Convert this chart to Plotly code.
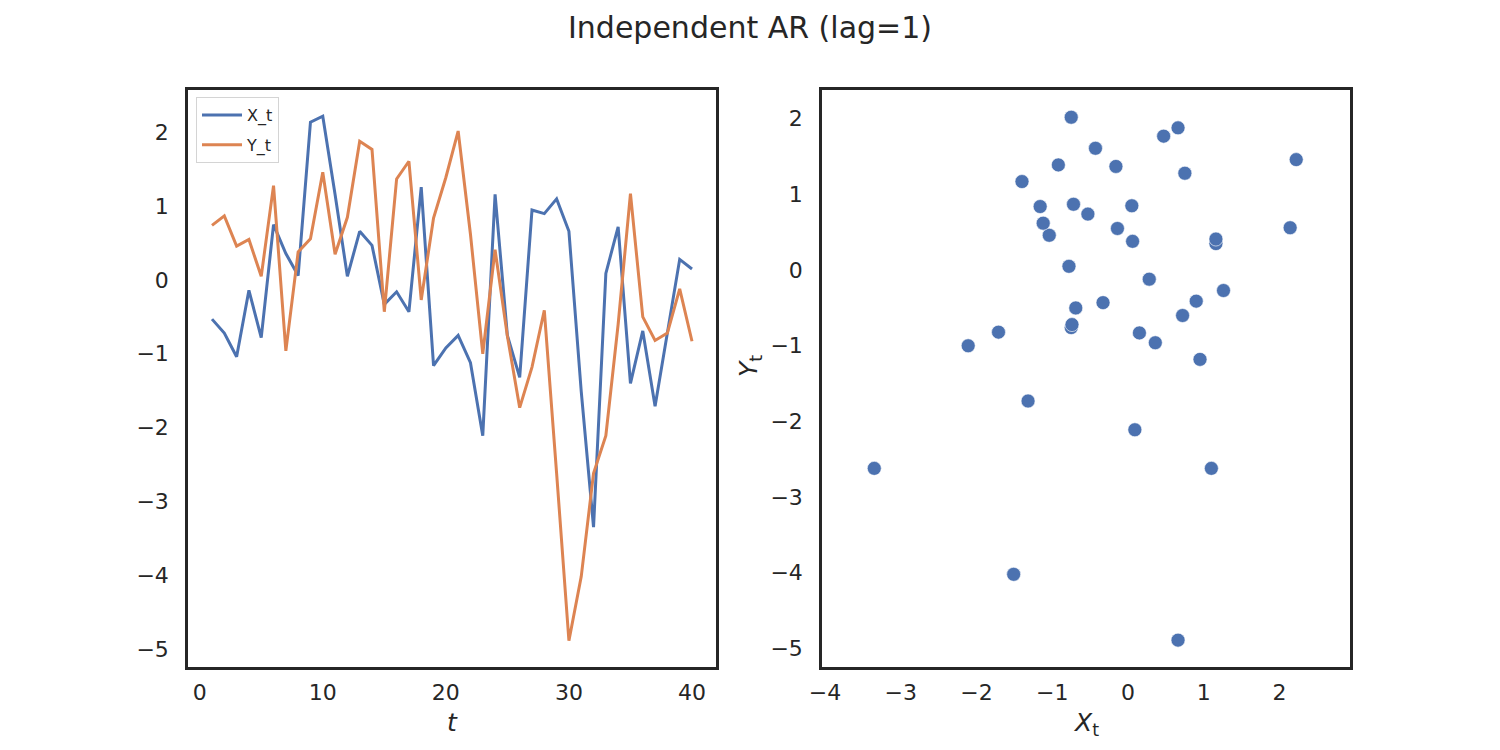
import plotly.graph_objects as go
from plotly.subplots import make_subplots

t = list(range(1, 41))
x_t = [-0.53, -0.72, -1.04, -0.14, -0.78, 0.75, 0.36, 0.06, 2.14, 2.22,
       1.16, 0.05, 0.66, 0.47, -0.33, -0.16, -0.43, 1.26, -1.16, -0.92,
       -0.75, -1.12, -2.11, 1.16, -0.75, -1.32, 0.95, 0.90, 1.10, 0.66,
       -1.51, -3.35, 0.09, 0.72, -1.40, -0.69, -1.71, -0.74, 0.28, 0.15]
y_t = [0.74, 0.87, 0.46, 0.55, 0.05, 1.28, -0.96, 0.38, 0.56, 1.46,
       0.35, 0.85, 1.88, 1.77, -0.43, 1.37, 1.61, -0.27, 0.84, 1.39,
       2.02, 0.62, -1.00, 0.41, -0.76, -1.73, -1.18, -0.41, -2.62, -4.89,
       -4.02, -2.62, -2.11, -0.60, 1.17, -0.50, -0.82, -0.72, -0.12, -0.83]

left_xticks = [0, 10, 20, 30, 40]
yticks = [-5, -4, -3, -2, -1, 0, 1, 2]
right_xticks = [-4, -3, -2, -1, 0, 1, 2]

BLUE = "#4C72B0"
ORANGE = "#DD8452"
DARK = "#262626"
FONT = "DejaVu Sans"

fig = make_subplots(rows=1, cols=2)

fig.add_trace(go.Scatter(x=t, y=x_t, mode="lines", name="X_t", legendgroup="a",
                         line=dict(color=BLUE, width=3)), row=1, col=1)
fig.add_trace(go.Scatter(x=t, y=y_t, mode="lines", name="Y_t", legendgroup="b",
                         line=dict(color=ORANGE, width=3)), row=1, col=1)
fig.add_trace(go.Scatter(x=x_t, y=y_t, mode="markers", showlegend=False,
                         marker=dict(color=BLUE, size=14,
                                     line=dict(color="white", width=0.6))),
              row=1, col=2)

def ax(ticklen):
    return dict(showline=True, mirror=True, linecolor=DARK, linewidth=2.5,
                showgrid=False, zeroline=False, ticks="outside", ticklen=ticklen,
                tickcolor="rgba(0,0,0,0)", automargin=False,
                tickfont=dict(size=22, color=DARK, family=FONT))

fig.update_layout(
    width=1500, height=750,
    margin=dict(l=0, r=0, t=0, b=0),
    paper_bgcolor="white", plot_bgcolor="white",
    font=dict(family=FONT, color=DARK),
    xaxis=dict(domain=[188/1500, 716/1500], range=[-0.95, 41.95],
               tickvals=left_xticks, **ax(4)),
    yaxis=dict(domain=[1-667/750, 1-90/750], range=[-5.246, 2.576],
               tickvals=yticks, **ax(12)),
    xaxis2=dict(domain=[822/1500, 1350/1500], range=[-4.04, 2.93],
                tickvals=right_xticks, **ax(4)),
    yaxis2=dict(domain=[1-667/750, 1-90/750], range=[-5.245, 2.38],
                tickvals=yticks, **ax(12)),
    legend=dict(x=196/1500, y=1-97/750, xanchor="left", yanchor="top",
                bgcolor="white", bordercolor="#d4d4d4", borderwidth=1,
                font=dict(size=16, color=DARK, family=FONT),
                tracegroupgap=6, itemwidth=40),
    showlegend=True,
)

fig.add_annotation(text="Independent AR (lag=1)", xref="paper", yref="paper",
                   x=0.5, y=1-28/750, xanchor="center", yanchor="middle",
                   showarrow=False, font=dict(size=30, color=DARK, family=FONT))
fig.add_annotation(text="<i>t</i>", xref="paper", yref="paper",
                   x=452/1500, y=1-722/750, xanchor="center", yanchor="middle",
                   showarrow=False, font=dict(size=25, color=DARK, family=FONT))
fig.add_annotation(text="<i>X</i><sub>t</sub>", xref="paper", yref="paper",
                   x=1086/1500, y=1-724/750, xanchor="center", yanchor="middle",
                   showarrow=False, font=dict(size=25, color=DARK, family=FONT))
fig.add_annotation(text="<i>Y</i><sub>t</sub>", xref="paper", yref="paper",
                   x=750/1500, y=1-366/750, xanchor="center", yanchor="middle",
                   textangle=-90,
                   showarrow=False, font=dict(size=25, color=DARK, family=FONT))

fig.write_html("out.html")
